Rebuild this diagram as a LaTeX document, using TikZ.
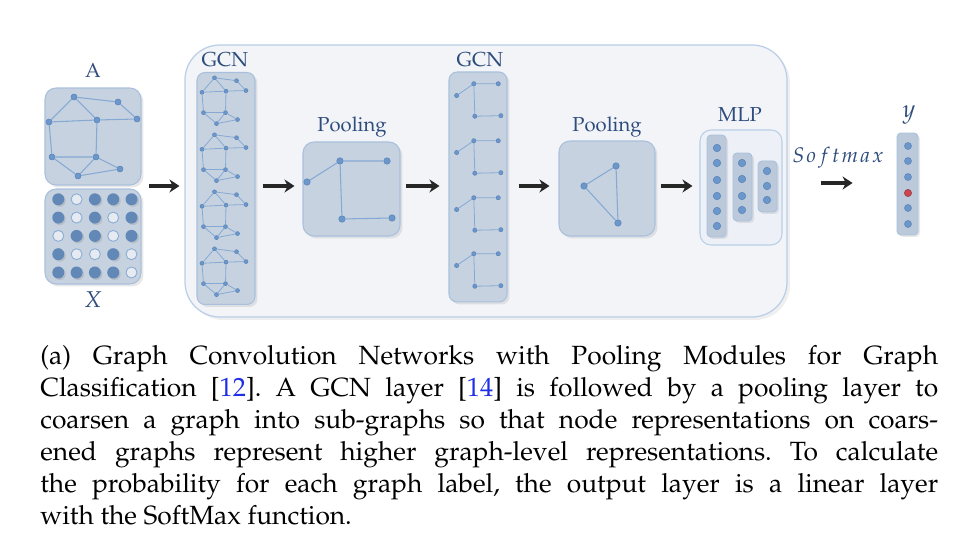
\documentclass[tikz,border=0pt]{standalone}
\usepackage[T1]{fontenc}
\usepackage{mathpazo}
\usepackage{xcolor}
\usetikzlibrary{arrows.meta,calc,positioning,shadows}

\definecolor{outerfill}{HTML}{F2F4F8}
\definecolor{outerline}{HTML}{B9CEE7}
\definecolor{panelfill}{HTML}{C7D2E0}
\definecolor{panelline}{HTML}{A9C0DC}
\definecolor{mlpfill}{HTML}{EDF1F7}
\definecolor{colfill}{HTML}{BCC9DA}
\definecolor{dotblue}{HTML}{6C97CB}
\definecolor{dotline}{HTML}{5A84B8}
\definecolor{edgeblue}{HTML}{84A9D4}
\definecolor{labelblue}{HTML}{2E4C7C}
\definecolor{dotred}{HTML}{D0454C}
\definecolor{citeblue}{HTML}{1F2EE8}

\tikzset{
  panel/.style={rounded corners=0.22cm, fill=panelfill, draw=panelline, line width=0.6pt,
    drop shadow={opacity=0.18, shadow xshift=0.05cm, shadow yshift=-0.05cm}},
  colbox/.style={rounded corners=0.08cm, fill=colfill, draw=panelline, line width=0.5pt,
    drop shadow={opacity=0.18, shadow xshift=0.04cm, shadow yshift=-0.04cm}},
  gnode/.style={circle, inner sep=0pt, minimum size=0.12cm, fill=dotblue, draw=dotline, line width=0.3pt},
  gedge/.style={draw=edgeblue, line width=0.6pt},
  mlpdot/.style={circle, inner sep=0pt, minimum size=0.15cm, fill=dotblue, draw=dotline, line width=0.3pt},
  fulldot/.style={circle, inner sep=0pt, minimum size=0.24cm, fill=dotblue!90!black,
    drop shadow={opacity=0.25, shadow xshift=0.03cm, shadow yshift=-0.03cm}},
  emptydot/.style={circle, inner sep=0pt, minimum size=0.22cm, fill=panelfill!45!white, draw=dotblue!80, line width=0.5pt},
  steplabel/.style={text=labelblue, font=\fontsize{11.5}{13}\selectfont},
  flowarrow/.style={draw=black!85, line width=1.8pt, -{Stealth[length=0.2cm,width=0.26cm]}},
  % graph before pooling
  pics/fullgraph/.style={code={
    \node[gnode] (-a) at (-19,-40) {};
    \node[gnode] (-b) at (25,-35) {};
    \node[gnode] (-c) at (44,-18) {};
    \node[gnode] (-d) at (-44,-15) {};
    \node[gnode] (-e) at (4,-17) {};
    \node[gnode] (-f) at (-41,20) {};
    \node[gnode] (-g) at (3,20) {};
    \node[gnode] (-h) at (-15,39) {};
    \node[gnode] (-i) at (27,32) {};
    \draw[gedge] (-a) -- (-b) -- (-c);
    \draw[gedge] (-d) -- (-a) -- (-e);
    \draw[gedge] (-d) -- (-e) -- (-c);
    \draw[gedge] (-d) -- (-f) -- (-g) -- (-e);
    \draw[gedge] (-f) -- (-h) -- (-g) -- (-i) -- (-h);
  }},
  % graph after pooling
  pics/poolgraph/.style={code={
    \node[gnode] (-p) at (-10,-29) {};
    \node[gnode] (-q) at (37,-29) {};
    \node[gnode] (-r) at (-43,-8) {};
    \node[gnode] (-s) at (-8,29) {};
    \node[gnode] (-t) at (42,28) {};
    \draw[gedge] (-r) -- (-p) -- (-q);
    \draw[gedge] (-p) -- (-s) -- (-t);
  }}
}

\begin{document}
\begin{tikzpicture}[x=0.02cm, y=-0.02cm]
\useasboundingbox[fill=white] (0,0) rectangle (954,536);

% Drawing the outer group
\draw[rounded corners=0.7cm, fill=outerfill, draw=outerline, line width=0.7pt,
  drop shadow={opacity=0.12, shadow xshift=0.06cm, shadow yshift=-0.06cm}] (185,45) rectangle (787,317);

% Drawing input A
\node[steplabel] (labA) at (93,71) {A};
\node[panel, minimum width=1.92cm, minimum height=1.94cm] (boxA) at (93,136.5) {};
\pic (ga) at (93,137) {fullgraph};

% Drawing input X
\node[panel, minimum width=1.92cm, minimum height=1.9cm] (boxX) at (93,236.5) {};
\foreach \row [count=\r] in {{1,0,1,1,1},{1,0,1,0,1},{0,1,1,0,1},{1,0,0,1,0},{1,1,1,1,0}}{
  \foreach \v [count=\c] in \row {
    \ifnum\v=1
      \node[fulldot] (x\r\c) at ({40+18.3*\c},{181+18.3*\r}) {};
    \else
      \node[emptydot] (x\r\c) at ({40+18.3*\c},{181+18.3*\r}) {};
    \fi
  }
}
\node[steplabel, font=\fontsize{13}{15}\selectfont] (labX) at (93,300) {$X$};

% Drawing first GCN
\node[steplabel] (labG1) at (225,60) {GCN};
\node[panel, rounded corners=0.16cm, minimum width=1.16cm, minimum height=4.64cm] (gcn1) at (226,188.5) {};
\foreach \yy [count=\i] in {101,158,215,272}{
  \pic[xscale=0.5, yscale=0.58, gnode/.append style={minimum size=0.08cm}, gedge/.append style={line width=0.45pt}]
    (s\i) at (224,\yy) {fullgraph};
}

% Drawing first pooling
\node[steplabel] (labP1) at (352,127) {Pooling};
\node[panel, minimum width=1.94cm, minimum height=1.88cm] (pool1) at (351.5,189) {};
\pic[gnode/.append style={minimum size=0.13cm}] (pa) at (350,190) {poolgraph};

% Drawing second GCN
\node[steplabel] (labG2) at (480,60) {GCN};
\node[panel, rounded corners=0.16cm, minimum width=1.16cm, minimum height=4.6cm] (gcn2) at (478,187) {};
\foreach \yy [count=\i] in {100,157,214,270}{
  \pic[xscale=0.52, yscale=0.56, gnode/.append style={minimum size=0.085cm}, gedge/.append style={line width=0.45pt}]
    (t\i) at (479,\yy) {poolgraph};
}

% Drawing second pooling
\node[steplabel] (labP2) at (607,127) {Pooling};
\node[panel, minimum width=1.92cm, minimum height=1.9cm] (pool2) at (607,188.5) {};
\node[gnode, minimum size=0.13cm] (pb1) at (616,166) {};
\node[gnode, minimum size=0.13cm] (pb2) at (584,186) {};
\node[gnode, minimum size=0.13cm] (pb3) at (618,223) {};
\draw[gedge] (pb2) -- (pb1) -- (pb3) -- (pb2);

% Drawing MLP
\node[steplabel] (labM) at (740,115) {MLP};
\node[rounded corners=0.22cm, fill=mlpfill, draw=outerline, line width=0.6pt,
  minimum width=1.64cm, minimum height=2.3cm] (mlp) at (741,187.5) {};
\node[colbox, minimum width=0.38cm, minimum height=2.04cm] (col1) at (716.5,186) {};
\node[colbox, minimum width=0.38cm, minimum height=1.36cm] (col2) at (742.5,187) {};
\node[colbox, minimum width=0.38cm, minimum height=1.02cm] (col3) at (767.5,186.5) {};
\foreach \yy [count=\i] in {148,163,180,196,211,226}
  \node[mlpdot] (m1-\i) at (717,\yy) {};
\foreach \yy [count=\i] in {163,179,196,210}
  \node[mlpdot] (m2-\i) at (742,\yy) {};
\foreach \yy [count=\i] in {171,186,200}
  \node[mlpdot] (m3-\i) at (767,\yy) {};

% Drawing output y
\node[steplabel, font=\fontsize{14}{16}\selectfont] (labY) at (909,115) {$y$};
\node[colbox, minimum width=0.42cm, minimum height=2.04cm] (ybox) at (907.5,184) {};
\foreach \yy [count=\i] in {146,161,177,193,208,224}
  \node[mlpdot, minimum size=0.14cm] (y\i) at (908,\yy) {};
\node[mlpdot, minimum size=0.14cm, fill=dotred, draw=dotred!80!black] at (y4) {};

% Drawing arrows
\draw[flowarrow, shorten <=0.14cm, shorten >=0.34cm] (boxA.east |- 0,186) -- (gcn1.west |- 0,186);
\draw[flowarrow, shorten <=0.14cm, shorten >=0.16cm] (gcn1.east |- 0,186) -- (pool1.west |- 0,186);
\draw[flowarrow, shorten <=0.10cm, shorten >=0.18cm] (pool1.east |- 0,186) -- (gcn2.west |- 0,186);
\draw[flowarrow, shorten <=0.22cm, shorten >=0.18cm] (gcn2.east |- 0,186) -- (pool2.west |- 0,186);
\draw[flowarrow, shorten <=0.10cm, shorten >=0.14cm] (pool2.east |- 0,186) -- (mlp.west |- 0,186);
\draw[flowarrow, shorten <=0.76cm, shorten >=0.88cm] (mlp.east |- 0,183) -- (ybox.west |- 0,183);
\node[steplabel, font=\fontsize{12}{14}\selectfont] (labS) at (838,158)
  {$S\mkern1.5mu o\mkern1.5mu f\mkern1.5mu t\mkern1.5mu m\mkern1.5mu a\mkern1.5mu x$};

% Caption
\node[anchor=north west, inner sep=0pt, text width=17.96cm, align=justify,
  font=\fontsize{15}{18.2}\selectfont\frenchspacing] (caption) at (40,345) {%
(a) Graph Convolution Networks with Pooling Modules for Graph\linebreak
Classification [\textcolor{citeblue}{12}]. A GCN layer [\textcolor{citeblue}{14}] is followed by a pooling layer to\linebreak
coarsen a graph into sub-graphs so that node representations on coars-\linebreak
ened graphs represent higher graph-level representations. To calculate\linebreak
the probability for each graph label, the output layer is a linear layer\linebreak
with the SoftMax function.};
\end{tikzpicture}
\end{document}
